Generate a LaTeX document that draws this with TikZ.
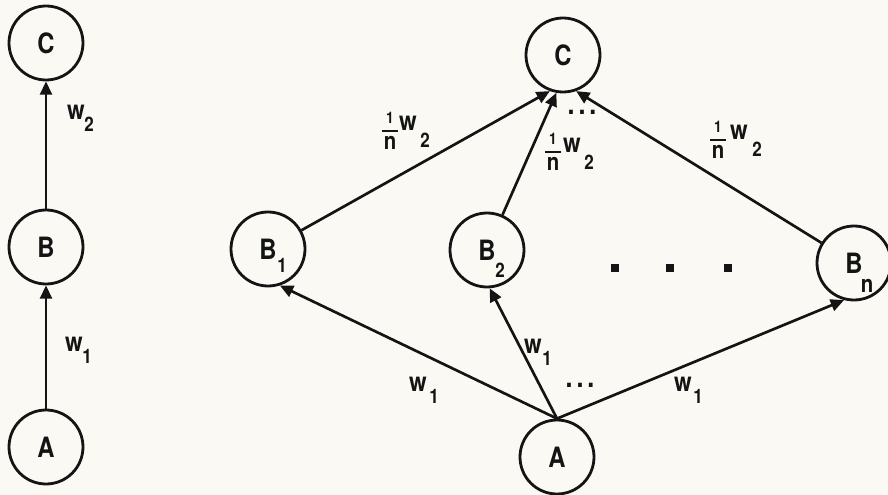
\documentclass[tikz,border=0pt]{standalone}
\usepackage{fontspec}
\newfontfamily\lab{TeX Gyre Heros}[FakeStretch=0.85]
\usetikzlibrary{arrows.meta}
\definecolor{paper}{RGB}{250,249,243}
\definecolor{ink}{RGB}{20,20,20}
\tikzset{
 unit/.style={circle,draw=ink,line width=2.1pt,minimum size=55.5pt,inner sep=0pt,text=ink,font=\lab\bfseries\fontsize{21}{21}\selectfont},
 conn/.style={draw=ink,line width=2pt,-{Triangle[length=10pt,width=9pt]}},
 txt/.style={inner sep=0pt,text=ink,font=\lab\bfseries\fontsize{20}{20}\selectfont},
 subtxt/.style={inner sep=0pt,text=ink,font=\lab\bfseries\fontsize{15}{15}\selectfont},
 numtxt/.style={inner sep=0pt,text=ink,font=\lab\bfseries\fontsize{12}{12}\selectfont},
 dentxt/.style={inner sep=0pt,text=ink,font=\lab\bfseries\fontsize{18}{18}\selectfont},
 dotstxt/.style={inner sep=0pt,text=ink,font=\lab\bfseries\fontsize{22}{22}\selectfont},
 fbar/.style={draw=ink,line width=1.5pt},
 sq/.style={fill=ink,minimum size=5.5pt,inner sep=0pt},
}
\newcommand\threedots{.\hspace{3pt}.\hspace{3pt}.}
\begin{document}
\begin{tikzpicture}[x=0.75pt,y=-0.75pt]
\fill[paper] (0,0) rectangle (888,495);
\useasboundingbox (0,0) rectangle (888,495);
% ---- left network
\node[unit] (CL) at (46,43) {C};
\node[unit] (BL) at (46,247) {B};
\node[unit] (AL) at (46,447) {A};
\draw[conn] (BL) -- (CL);
\draw[conn] (AL) -- (BL);
\node[txt] (wL2) at (76,112) {w};
\node[subtxt] (wL2s) at (89,124) {2};
\node[txt] (wL1) at (74,344) {w};
\node[subtxt] (wL1s) at (87,356) {1};
% ---- right network
\node[unit] (C) at (563,55) {C};
\node[unit] (B1) at (268,249) {B};
\node[subtxt] (B1s) at (282,265) {1};
\node[unit] (B2) at (487,250) {B};
\node[subtxt] (B2s) at (500,270) {2};
\node[unit] (Bn) at (854,263) {B};
\node[dentxt] (Bns) at (867,286) {n};
\node[unit] (A) at (557,457) {A};
\draw[conn] (B1) -- (C.-110);
\draw[conn] (B2) -- (C.-100);
\draw[conn] (Bn) -- (C.-70);
\draw[conn] (A.north) -- (B1.-72);
\draw[conn] (A.north) -- (B2.-86);
\draw[conn] (A.north) -- (Bn.-105);
% dots between hidden units
\node[sq] (s1) at (615,268) {};
\node[sq] (s2) at (670,268) {};
\node[sq] (s3) at (728,268) {};
\node[dotstxt] (dtop) at (582,112) {\threedots};
\node[dotstxt] (dbot) at (580,385) {\threedots};
% ---- labels 1/n w2
\node[numtxt] (t1n) at (390,118) {1};
\draw[fbar] (382,131) -- (398,131);
\node[dentxt] (t1d) at (390,143) {n};
\node[txt] (t1w) at (408,123) {w};
\node[subtxt] (t1s) at (425,140) {2};
\node[numtxt] (t2n) at (553,139) {1};
\draw[fbar] (545,152) -- (561,152);
\node[dentxt] (t2d) at (553,164) {n};
\node[txt] (t2w) at (572,145) {w};
\node[subtxt] (t2s) at (589,162) {2};
\node[numtxt] (t3n) at (718,127) {1};
\draw[fbar] (710,140) -- (726,140);
\node[dentxt] (t3d) at (718,152) {n};
\node[txt] (t3w) at (739,132) {w};
\node[subtxt] (t3s) at (757,149) {2};
% ---- labels w1
\node[txt] (l1w) at (418,384) {w};
\node[subtxt] (l1s) at (434,396) {1};
\node[txt] (l2w) at (533,346) {w};
\node[subtxt] (l2s) at (547,358) {1};
\node[txt] (l3w) at (683,384) {w};
\node[subtxt] (l3s) at (698,396) {1};
\end{tikzpicture}
\end{document}
